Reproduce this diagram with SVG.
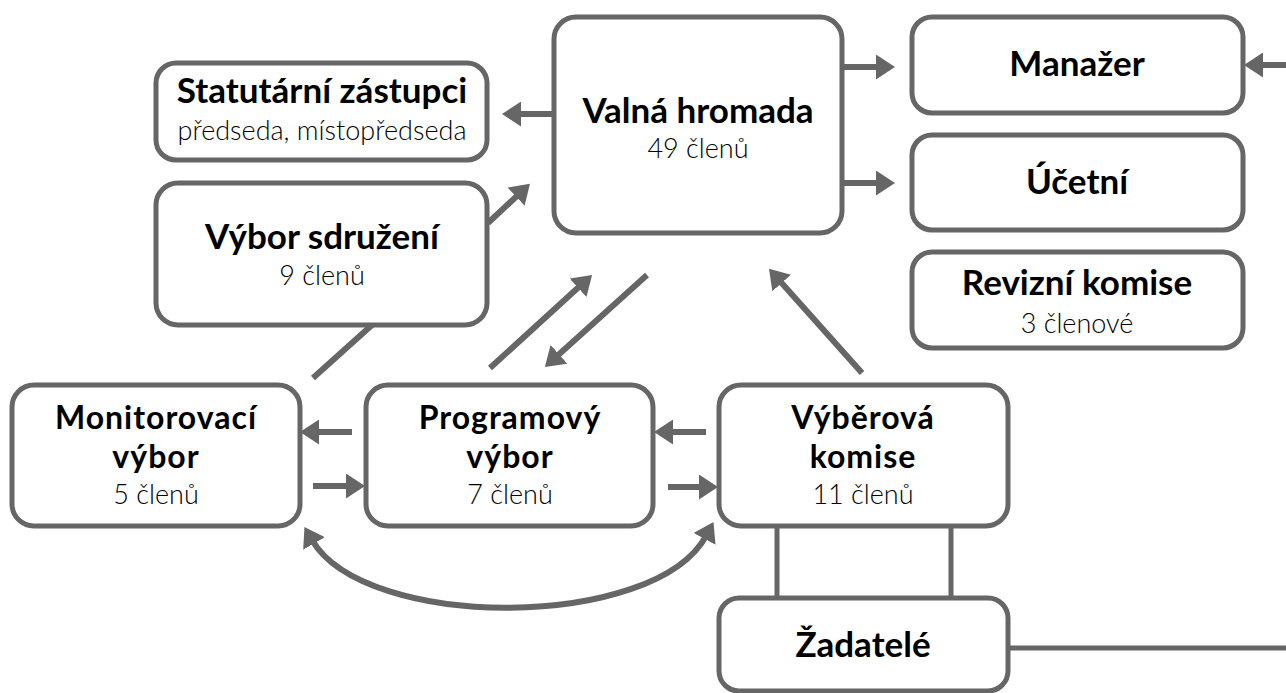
<svg xmlns="http://www.w3.org/2000/svg" width="1286" height="693" viewBox="0 0 1286 693">
<style>
.box{fill:#fff;stroke:#666;stroke-width:5}
.t{font-family:Lato,"Open Sans","Liberation Sans",sans-serif;font-weight:700;font-size:35px;fill:#000;text-anchor:middle}
.t2{font-size:32px;letter-spacing:1px}
.s{font-family:Lato,"Open Sans","Liberation Sans",sans-serif;font-weight:300;font-size:27px;fill:#000;text-anchor:middle}
.c{fill:none;stroke:#666;stroke-width:6}
.l{fill:none;stroke:#666;stroke-width:5}
</style>
<defs>
<marker id="ah" markerUnits="userSpaceOnUse" viewBox="0 0 19 25" refX="4" refY="12.5" markerWidth="19" markerHeight="25" orient="auto-start-reverse">
<path d="M0,0 L19,12.5 L0,25 z" fill="#666"/>
</marker>
</defs>
<rect width="1286" height="693" fill="#fff"/>
<g id="connectors">
<line class="c" x1="554" y1="114" x2="517" y2="114" marker-end="url(#ah)"/>
<line class="c" x1="842" y1="67" x2="880" y2="67" marker-end="url(#ah)"/>
<line class="c" x1="842" y1="183" x2="880" y2="183" marker-end="url(#ah)"/>
<line class="c" x1="1286" y1="65" x2="1259" y2="65" marker-end="url(#ah)"/>
<line class="c" x1="488" y1="223" x2="519" y2="194" marker-end="url(#ah)"/>
<line class="c" x1="372" y1="325" x2="313" y2="378"/>
<line class="c" x1="490" y1="368" x2="581" y2="285" marker-end="url(#ah)"/>
<line class="c" x1="647" y1="275" x2="556" y2="357" marker-end="url(#ah)"/>
<line class="c" x1="862" y1="373" x2="779" y2="280" marker-end="url(#ah)"/>
<line class="c" x1="352" y1="432" x2="315" y2="432" marker-end="url(#ah)"/>
<line class="c" x1="313" y1="486" x2="350" y2="486" marker-end="url(#ah)"/>
<line class="c" x1="706" y1="432" x2="669" y2="432" marker-end="url(#ah)"/>
<line class="c" x1="668" y1="487" x2="703" y2="487" marker-end="url(#ah)"/>
<path class="c" d="M312,540 C365,631 655,631 706.4,535.3" marker-start="url(#ah)" marker-end="url(#ah)"/>
<line class="l" x1="777" y1="526" x2="777" y2="598"/>
<line class="l" x1="951" y1="526" x2="951" y2="598"/>
<line class="l" x1="1008" y1="648" x2="1286" y2="648"/>
</g>
<g id="statutarni">
<rect class="box" x="156" y="63" width="331" height="97" rx="20"/>
<text class="t" x="322" y="103" font-size="33">Statutární zástupci</text>
<text class="s" x="322" y="140">předseda, místopředseda</text>
</g>
<g id="valna">
<rect class="box" x="554" y="17" width="288" height="216" rx="22"/>
<text class="t" x="698" y="123">Valná hromada</text>
<text class="s" x="698" y="158">49 členů</text>
</g>
<g id="manazer">
<rect class="box" x="912" y="17" width="331" height="96" rx="20"/>
<text class="t" x="1077" y="76">Manažer</text>
</g>
<g id="ucetni">
<rect class="box" x="912" y="135" width="331" height="95" rx="20"/>
<text class="t" x="1077" y="194">Účetní</text>
</g>
<g id="revizni">
<rect class="box" x="912" y="252" width="331" height="96" rx="20"/>
<text class="t" x="1077" y="295">Revizní komise</text>
<text class="s" x="1077" y="333">3 členové</text>
</g>
<g id="vybor-sdruzeni">
<rect class="box" x="156" y="183" width="331" height="142" rx="22"/>
<text class="t" x="322" y="249">Výbor sdružení</text>
<text class="s" x="322" y="285">9 členů</text>
</g>
<g id="monitorovaci">
<rect class="box" x="12" y="385" width="288" height="141" rx="22"/>
<text class="t t2" x="156" y="429">Monitorovací</text>
<text class="t t2" x="156" y="468">výbor</text>
<text class="s" x="156" y="504">5 členů</text>
</g>
<g id="programovy">
<rect class="box" x="366" y="385" width="287" height="141" rx="22"/>
<text class="t t2" x="510" y="429">Programový</text>
<text class="t t2" x="510" y="468">výbor</text>
<text class="s" x="510" y="504">7 členů</text>
</g>
<g id="vyberova">
<rect class="box" x="719" y="385" width="289" height="141" rx="22"/>
<text class="t t2" x="863" y="429">Výběrová</text>
<text class="t t2" x="863" y="468">komise</text>
<text class="s" x="863" y="504">11 členů</text>
</g>
<g id="zadatele">
<rect class="box" x="719" y="598" width="289" height="93" rx="20"/>
<text class="t" x="863" y="657">Žadatelé</text>
</g>
</svg>
